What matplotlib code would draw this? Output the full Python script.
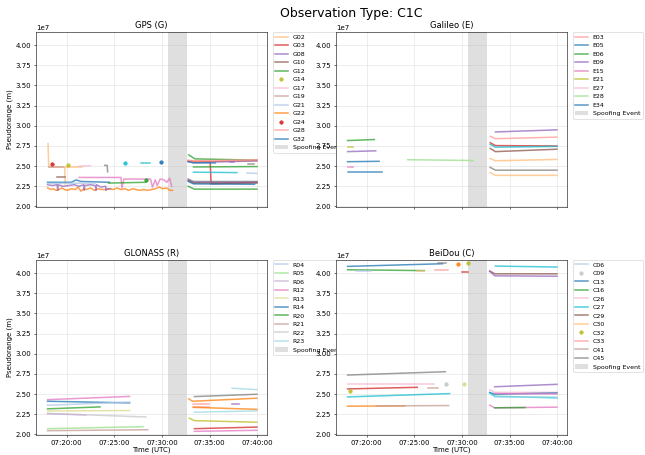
import matplotlib
matplotlib.use("Agg")
import matplotlib.pyplot as plt
import matplotlib.dates as mdates
import numpy as np
from datetime import datetime, timedelta

# times are minutes after 07:00 UTC, pseudoranges in units of 1e7 m
t0 = datetime(2024, 1, 1, 7, 0, 0)
spoof_window = (30.67, 32.6)

# palette (tab20)
BLUE, LBLUE = "#1f77b4", "#aec7e8"
ORANGE, LORANGE = "#ff7f0e", "#ffbb78"
GREEN, LGREEN = "#2ca02c", "#98df8a"
RED, LRED = "#d62728", "#ff9896"
PURPLE, LPURPLE = "#9467bd", "#c5b0d5"
BROWN, LBROWN = "#8c564b", "#c49c94"
PINK, LPINK = "#e377c2", "#f7b6d2"
GRAY, LGRAY = "#7f7f7f", "#c7c7c7"
OLIVE, LOLIVE = "#bcbd22", "#dbdb8d"
CYAN, LCYAN = "#17becf", "#9edae5"

# ---------------- GPS ----------------
gps_names = ["G02", "G02", "G19", "G22", "G08", "G32", "G21", "G10", "G17", "",
             "G12", "", "", "G24", "G14", "", "", "",
             "G12", "G03", "", "", "", "G28", "G12", "", "", "", "", "",
             "", "", "", "G12"]
gps_colors = [LORANGE, LORANGE, LBROWN, ORANGE, PURPLE, BLUE, LBLUE, BROWN, LPINK, PINK,
              GREEN, GREEN, GRAY, RED, OLIVE, CYAN, CYAN, BLUE,
              GREEN, RED, ORANGE, PURPLE, BLUE, LRED, GREEN, CYAN, LBLUE, PURPLE, GRAY, GRAY,
              PURPLE, BROWN, BLUE, GREEN]
gps_times = [
    [18.05, 18.12, 19.8, 19.85],
    [19.85, 21.6],
    [18.1, 19.6],
    [18.0, 18.4, 18.6, 18.9, 19.2, 19.5, 19.8, 20.1, 20.5, 20.9, 21.2, 21.5, 21.8, 22.1,
     22.5, 22.9, 23.3, 23.7, 24.1, 24.5, 24.9, 25.3, 25.7, 26.1, 26.5, 26.9, 27.3, 27.7,
     28.1, 28.5, 28.9, 29.3, 29.7, 30.1, 30.5, 30.8, 31.1],
    [18.0, 18.5, 19.0, 19.06, 19.12, 19.6, 20.2, 20.8, 21.3, 21.8, 21.85, 21.9, 22.5,
     23.0, 23.08, 23.15, 23.6, 24.1, 24.13, 24.2, 24.6],
    [18.0, 20.5, 21.0, 21.5, 24.5],
    [18.0, 23.0],
    [19.0, 19.8],
    [21.3, 22.5],
    [21.3, 25.7, 25.8, 26.0, 28.8, 29.0, 29.3, 29.5, 29.8, 30.2, 30.5, 30.8, 31.0],
    [24.4, 28.3],
    [28.3],
    [24.0, 24.25, 24.3],
    [18.45],
    [20.15],
    [26.1],
    [27.8, 28.7],
    [29.9],
    [32.8, 33.45, 39.95],
    [32.75, 35.05, 35.15, 39.95],
    [32.75, 33.3, 39.95],
    [32.75, 33.3, 39.95],
    [32.75, 33.3, 35.6],
    [32.75, 33.3, 39.95],
    [33.3, 39.95],
    [33.3, 37.85],
    [38.9, 39.95],
    [37.1, 37.5],
    [39.0, 39.6],
    [32.75, 33.3, 39.95],
    [32.75, 33.3, 39.95],
    [32.75, 33.3, 39.95],
    [32.75, 33.3, 39.7],
    [32.75, 33.4, 39.95],
]
gps_values = [
    [2.78, 2.49, 2.49, 2.28],
    [2.49, 2.49],
    [2.485, 2.485],
    [2.23, 2.21, 2.22, 2.20, 2.21, 2.23, 2.21, 2.20, 2.22, 2.21, 2.24, 2.19, 2.22, 2.21,
     2.23, 2.20, 2.22, 2.21, 2.21, 2.22, 2.21, 2.23, 2.21, 2.22, 2.20, 2.22, 2.21, 2.20,
     2.21, 2.20, 2.21, 2.22, 2.24, 2.22, 2.23, 2.20, 2.20],
    [2.27, 2.26, 2.27, 2.20, 2.27, 2.25, 2.26, 2.27, 2.25, 2.27, 2.20, 2.26, 2.27,
     2.26, 2.20, 2.27, 2.24, 2.25, 2.20, 2.22, 2.22],
    [2.30, 2.30, 2.33, 2.31, 2.30],
    [2.285, 2.29],
    [2.37, 2.37],
    [2.50, 2.505],
    [2.36, 2.36, 2.23, 2.34, 2.34, 2.24, 2.33, 2.26, 2.34, 2.33, 2.30, 2.35, 2.25],
    [2.29, 2.30],
    [2.33],
    [2.51, 2.51, 2.43],
    [2.525],
    [2.52],
    [2.54],
    [2.535, 2.535],
    [2.555],
    [2.64, 2.59, 2.575],
    [2.56, 2.555, 2.28, 2.30],
    [2.57, 2.555, 2.57],
    [2.56, 2.545, 2.565],
    [2.555, 2.54, 2.54],
    [2.575, 2.565, 2.58],
    [2.49, 2.495],
    [2.425, 2.42],
    [2.415, 2.41],
    [2.55, 2.55],
    [2.53, 2.53],
    [2.34, 2.31, 2.31],
    [2.33, 2.30, 2.30],
    [2.32, 2.29, 2.29],
    [2.31, 2.28, 2.275],
    [2.25, 2.215, 2.215],
]

# ---------------- Galileo ----------------
gal_names = ["E06", "E21", "E09", "E05", "E15", "E34", "E28",
             "E09", "E03", "", "", "", "", "", "", "E27"]
gal_colors = [GREEN, OLIVE, PURPLE, BLUE, PINK, BLUE, LGREEN,
              PURPLE, LRED, RED, CYAN, BROWN, LORANGE, GRAY, LORANGE, LPINK]
gal_times = [
    [18.0, 20.8], [18.0, 18.6], [18.0, 20.95], [18.0, 21.3], [18.0, 18.6], [18.0, 21.6],
    [24.3, 31.15],
    [33.5, 39.95],
    [32.95, 33.5, 39.95],
    [32.95, 33.5, 39.95],
    [32.95, 33.5, 39.95],
    [32.95, 33.5, 39.95],
    [32.95, 33.5, 39.95],
    [32.95, 33.5, 39.95],
    [32.95, 33.5, 39.95],
    [18.0, 18.3],
]
gal_values = [
    [2.817, 2.83], [2.74, 2.74], [2.68, 2.69], [2.555, 2.56], [2.49, 2.49], [2.43, 2.43],
    [2.58, 2.57],
    [2.924, 2.95],
    [2.87, 2.84, 2.86],
    [2.79, 2.755, 2.75],
    [2.77, 2.735, 2.745],
    [2.72, 2.68, 2.71],
    [2.595, 2.567, 2.583],
    [2.485, 2.45, 2.45],
    [2.42, 2.386, 2.386],
    [2.49, 2.49],
]

# ---------------- GLONASS ----------------
glo_names = ["R12", "R14", "R04", "R20", "R13", "R22", "R06", "R05", "R21",
             "R23", "", "", "", "", "", "", "", "", "", ""]
glo_colors = [PINK, BLUE, LBLUE, GREEN, LOLIVE, LGRAY, LPURPLE, LGREEN, LBROWN,
              LCYAN, GRAY, ORANGE, LRED, LRED, ORANGE, PURPLE, LCYAN, OLIVE, RED, PINK]
glo_times = [
    [18.0, 26.6], [18.0, 26.6], [18.0, 26.6], [18.0, 23.5], [18.0, 26.6], [18.0, 28.3],
    [18.0, 22.0], [18.0, 28.0], [18.0, 28.5],
    [37.35, 39.95],
    [33.4, 39.95],
    [32.8, 33.2, 39.95],
    [33.3, 34.9],
    [33.3, 34.9],
    [33.3, 39.95],
    [37.3, 38.1],
    [33.4, 39.95],
    [32.87, 33.4, 39.95],
    [33.4, 39.95],
    [33.4, 39.95],
]
glo_values = [
    [2.43, 2.47], [2.41, 2.39], [2.36, 2.40], [2.316, 2.34], [2.29, 2.295], [2.26, 2.215],
    [2.255, 2.24], [2.07, 2.095], [2.045, 2.057],
    [2.571, 2.554],
    [2.468, 2.497],
    [2.44, 2.41, 2.448],
    [2.37, 2.37],
    [2.345, 2.345],
    [2.335, 2.31],
    [2.38, 2.38],
    [2.275, 2.29],
    [2.20, 2.17, 2.15],
    [2.07, 2.09],
    [2.037, 2.05],
]

# ---------------- BeiDou ----------------
bds_names = ["C13", "C45", "C16", "C06", "C30", "C33", "", "", "",
             "C27", "C29", "",
             "C45", "C26", "C09", "", "", "C32", "C41", "C27", "", "C41",
             "", "", "", "", "", "", "", "C16"]
bds_colors = [BLUE, GRAY, GREEN, LBLUE, LORANGE, LRED, ORANGE, OLIVE, RED,
              CYAN, BROWN, PURPLE,
              GRAY, LPINK, LGRAY, LOLIVE, RED, OLIVE, LBROWN, CYAN, ORANGE, LBROWN,
              PURPLE, LPINK, BLUE, PINK, CYAN, LCYAN, PINK, GREEN]
bds_times = [
    [18.0, 27.95], [27.45, 28.35], [18.0, 26.05], [18.9, 20.45], [25.3, 26.0],
    [27.2, 28.5], [29.55], [30.6], [30.0, 30.6],
    [33.5, 39.95],
    [32.9, 33.45, 39.95],
    [32.9, 33.45, 39.95],
    [18.0, 28.25], [18.0, 27.05], [28.35], [30.25], [18.0, 25.3], [18.3],
    [26.4, 27.45], [18.0, 28.7], [18.0, 24.0], [21.0, 28.6],
    [33.42, 39.95],
    [32.9, 33.42, 39.95],
    [32.9, 33.42, 39.95],
    [33.42, 39.95],
    [32.9, 33.42, 39.95],
    [33.42, 39.95],
    [32.9, 33.42, 39.95],
    [33.42, 36.6],
]
bds_values = [
    [4.082, 4.115], [4.127, 4.127], [4.04, 4.03], [4.02, 4.02], [4.02, 4.02],
    [4.037, 4.037], [4.107], [4.127], [4.012, 4.012],
    [4.086, 4.074],
    [4.025, 3.99, 3.99],
    [4.02, 3.965, 3.96],
    [2.735, 2.776], [2.62, 2.62], [2.628], [2.628], [2.563, 2.583], [2.542],
    [2.571, 2.571], [2.464, 2.505], [2.349, 2.353], [2.352, 2.357],
    [2.59, 2.62],
    [2.554, 2.52, 2.52],
    [2.52, 2.497, 2.513],
    [2.505, 2.50],
    [2.513, 2.472, 2.452],
    [2.46, 2.46],
    [2.361, 2.329, 2.337],
    [2.329, 2.332],
]


def to_time(minutes):
    return [t0 + timedelta(minutes=m) for m in minutes]


def draw_panel(ax, title, names, colors, times, values):
    handles = {}
    for name, c, t, v in zip(names, colors, times, values):
        y = np.array(v) * 1e7
        if len(t) == 1:
            line, = ax.plot(to_time(t), y, "o", color=c, ms=5, alpha=0.9)
        else:
            line, = ax.plot(to_time(t), y, color=c, lw=2.2, alpha=0.75)
        if name and name not in handles:
            handles[name] = line
    span = ax.axvspan(*to_time(spoof_window), color="gray", alpha=0.25, lw=0)
    labels = sorted(handles)
    ax.legend([handles[k] for k in labels] + [span], labels + ["Spoofing Event"],
              loc="upper left", bbox_to_anchor=(1.025, 1.0), borderaxespad=0,
              fontsize=9)
    ax.set_title(title)
    ax.grid(True, alpha=0.4)
    ax.set_ylim(1.992e7, 4.165e7)
    ax.set_xlim(*to_time([16.8, 41.0]))
    ax.xaxis.set_major_locator(mdates.MinuteLocator(byminute=range(0, 60, 5)))
    ax.xaxis.set_major_formatter(mdates.DateFormatter("%H:%M:%S"))


fig, axes = plt.subplots(2, 2, figsize=(12.9, 9.1), dpi=50, sharex=True)
fig.subplots_adjust(left=0.056, right=0.879, top=0.93, bottom=0.044,
                    wspace=0.3, hspace=0.3)

draw_panel(axes[0, 0], "GPS (G)", gps_names, gps_colors, gps_times, gps_values)
draw_panel(axes[0, 1], "Galileo (E)", gal_names, gal_colors, gal_times, gal_values)
draw_panel(axes[1, 0], "GLONASS (R)", glo_names, glo_colors, glo_times, glo_values)
draw_panel(axes[1, 1], "BeiDou (C)", bds_names, bds_colors, bds_times, bds_values)

axes[0, 0].set_ylabel("Pseudorange (m)")
axes[1, 0].set_ylabel("Pseudorange (m)")
axes[1, 0].set_xlabel("Time (UTC)", labelpad=1)
axes[1, 1].set_xlabel("Time (UTC)", labelpad=1)

fig.suptitle("Observation Type: C1C", fontsize=18, x=0.545, y=0.985)
fig.savefig("out.png", dpi=50)
